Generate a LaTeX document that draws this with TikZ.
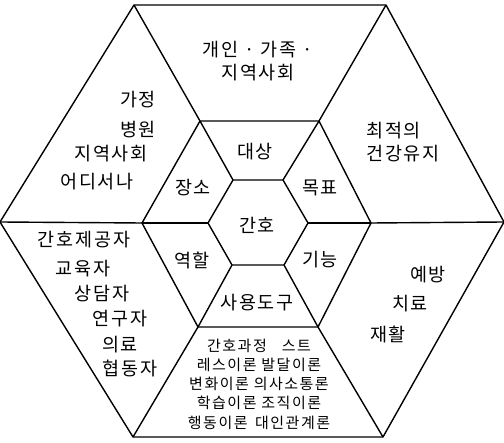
\documentclass[tikz,border=0pt]{standalone}
\usepackage{fontspec}
\newfontfamily\kr[LetterSpace=10]{Noto Sans CJK KR}
\newfontfamily\krs[LetterSpace=10]{Noto Sans CJK KR}
\begin{document}
\begin{tikzpicture}[x=1pt,y=-1pt,
  lbl/.style={font=\kr\fontsize{18.5}{23}\selectfont, inner sep=0pt},
  sm/.style={font=\krs\fontsize{15}{19.3}\selectfont, inner sep=0pt, align=center},
  edge/.style={line width=1.4pt, line join=round}]
\useasboundingbox (0,0) rectangle (504,443);
\fill[white] (0,0) rectangle (504,443);
% outer hexagon
\coordinate (o1) at (134,5);
\coordinate (o2) at (386,5);
\coordinate (o3) at (504,222);
\coordinate (o4) at (383,437);
\coordinate (o5) at (133,437);
\coordinate (o6) at (0,222);
% middle hexagon
\coordinate (m1) at (200,121);
\coordinate (m2) at (319,121);
\coordinate (m3) at (371,223);
\coordinate (m4) at (318,327);
\coordinate (m5) at (198,327);
\coordinate (m6) at (142,223);
% inner hexagon
\coordinate (i1) at (233,180);
\coordinate (i2) at (283,180);
\coordinate (i3) at (308,223);
\coordinate (i4) at (284,265);
\coordinate (i5) at (232,265);
\coordinate (i6) at (208,223);
\draw[edge] (o1) -- (o2) -- (o3) -- (o4) -- (o5) -- (o6) -- cycle;
\draw[edge] (m1) -- (m2) -- (m3) -- (m4) -- (m5) -- (m6) -- cycle;
\draw[edge] (i1) -- (i2) -- (i3) -- (i4) -- (i5) -- (i6) -- cycle;
\foreach \k in {1,...,6}{
  \draw[edge] (i\k) -- (m\k);
  \draw[edge] (m\k) -- (o\k);
}
% outer ring labels
\node[lbl, align=center] (top) at (258,61) {개인 · 가족 ·\\지역사회};
\node[lbl, align=left] (tr) at (403,142) {최적의\\건강유지};
\node[lbl] (tl1) at (138,100) {가정};
\node[lbl] (tl2) at (138,130) {병원};
\node[lbl] (tl3) at (111,154) {지역사회};
\node[lbl] (tl4) at (97,182) {어디서나};
\node[lbl] (bl1) at (84,240) {간호제공자};
\node[lbl] (bl2) at (83,269) {교육자};
\node[lbl] (bl3) at (102,294) {상담자};
\node[lbl] (bl4) at (120,319) {연구자};
\node[lbl] (bl5) at (120,345) {의료};
\node[lbl] (bl6) at (130,369) {협동자};
\node[lbl] (br1) at (428,275) {예방};
\node[lbl] (br2) at (410,304) {치료};
\node[lbl] (br3) at (388,335) {재활};
\node[sm] (bot) at (259,384) {간호과정\quad 스트\\레스이론 발달이론\\변화이론 의사소통론\\학습이론 조직이론\\행동이론\enspace 대인관계론};
% middle ring labels
\node[lbl] (c1) at (255,152) {대상};
\node[lbl] (c2) at (193,188) {장소};
\node[lbl] (c3) at (320,188) {목표};
\node[lbl] (c0) at (257,225) {간호};
\node[lbl] (c4) at (192,260) {역할};
\node[lbl] (c5) at (320,260) {기능};
\node[lbl] (c6) at (257,303) {사용도구};
\end{tikzpicture}
\end{document}
